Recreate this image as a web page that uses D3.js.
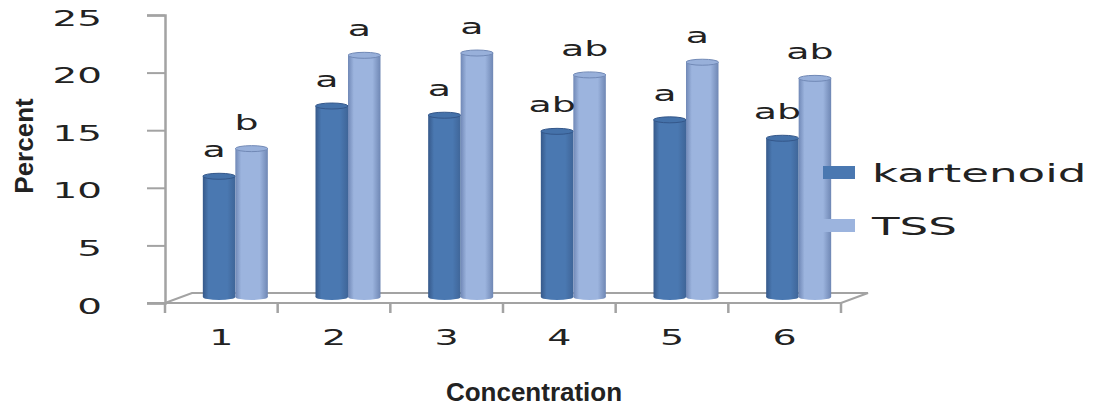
<!DOCTYPE html>
<html>
<head>
<meta charset="utf-8">
<script src="https://cdn.jsdelivr.net/npm/d3@7"></script>
<style>
  html, body { margin: 0; padding: 0; background: #fff; }
  svg { display: block; }
</style>
</head>
<body>
<svg id="chart" width="1095" height="406"></svg>
<script>
// ---- data ----
const categories = ["1", "2", "3", "4", "5", "6"];
const seriesNames = ["kartenoid", "TSS"];
const kartenoid = [11.0, 17.1, 16.3, 14.9, 15.9, 14.3];
const tss = [13.4, 21.5, 21.7, 19.8, 20.9, 19.5];
const kartenoidLetters = ["a", "a", "a", "ab", "a", "ab"];
const tssLetters = ["b", "a", "a", "ab", "a", "ab"];
const yTicks = [0, 5, 10, 15, 20, 25];

// ---- layout ----
const svg = d3.select("#chart");
const axisX0 = 165, axisX1 = 841;
const floorFront = 303, plotTop = 15;
const depthDx = 27, depthDy = -10;   // full floor depth
const barDx = 14, barDy = -3;        // bars sit mid depth
const stretch = 1.85;

const x = d3.scaleBand().domain(categories).range([axisX0, axisX1]).padding(0);
const y = d3.scaleLinear().domain([0, 25]).range([floorFront, plotTop]);
const inner = d3.scaleBand().domain(seriesNames).range([0, 65]).padding(0);
const groupOffset = (x.bandwidth() - 65) / 2;

const colors = {
  kartenoid: { left: "#36598a", mid: "#4a78b1", right: "#3f6598", top: "#4572aa", stroke: "#34578a" },
  TSS: { left: "#7088b6", mid: "#9cb4de", right: "#6f87b4", top: "#98b0da", stroke: "#7189b6" }
};

// gradients
const defs = svg.append("defs");
seriesNames.forEach(s => {
  const g = defs.append("linearGradient").attr("id", "grad-" + s)
    .attr("x1", "0%").attr("x2", "100%").attr("y1", "0%").attr("y2", "0%");
  g.append("stop").attr("offset", "0%").attr("stop-color", colors[s].left);
  g.append("stop").attr("offset", "18%").attr("stop-color", colors[s].mid);
  g.append("stop").attr("offset", "75%").attr("stop-color", colors[s].mid);
  g.append("stop").attr("offset", "100%").attr("stop-color", colors[s].right);
});

const gray = "#a3a3a3";

// floor (3D)
const floor = svg.append("g").attr("stroke", gray).attr("stroke-width", 2).attr("fill", "none");
floor.append("path").attr("d",
  `M${axisX0 - 18},${floorFront} L${axisX1},${floorFront} L${axisX1 + depthDx},${floorFront + depthDy}` +
  ` L${axisX0 + depthDx},${floorFront + depthDy} L${axisX0},${floorFront}`);

// y axis
const yAxis = svg.append("g").attr("transform", `translate(${axisX0},0)`)
  .call(d3.axisLeft(y).tickValues(yTicks).tickSize(18).tickPadding(0).tickFormat(d3.format("d")));
yAxis.select(".domain").attr("stroke", gray).attr("stroke-width", 2.5);
yAxis.selectAll(".tick line").attr("stroke", gray).attr("stroke-width", 2);
yAxis.selectAll(".tick text")
  .attr("x", 0).attr("dy", "10px")
  .attr("transform", `translate(-63,0) scale(1.9,1)`)
  .attr("text-anchor", "end")
  .attr("font-family", "DejaVu Sans").attr("font-size", 20.5).attr("fill", "#222");

// x axis ticks at band boundaries
const boundaries = categories.map(c => x(c)).concat([x(categories[categories.length - 1]) + x.bandwidth()]);
svg.append("g").selectAll("line").data(boundaries).join("line")
  .attr("x1", d => d).attr("x2", d => d)
  .attr("y1", floorFront).attr("y2", floorFront + 10)
  .attr("stroke", gray).attr("stroke-width", 2.5);

// x labels
const xAxis = svg.append("g").attr("transform", `translate(0,${floorFront})`)
  .call(d3.axisBottom(x).tickSize(0).tickPadding(0));
xAxis.select(".domain").remove();
xAxis.selectAll(".tick text")
  .attr("y", 0).attr("dy", "42px")
  .attr("transform", `scale(${stretch},1)`)
  .attr("font-family", "DejaVu Sans").attr("font-size", 20.5).attr("fill", "#222");

// bars (cylinders)
const data = [];
categories.forEach((c, i) => {
  data.push({ cat: c, series: "kartenoid", value: kartenoid[i], letter: kartenoidLetters[i] });
  data.push({ cat: c, series: "TSS", value: tss[i], letter: tssLetters[i] });
});
const yb = v => y(v) + barDy;
const bx = d => x(d.cat) + groupOffset + barDx + inner(d.series);
const bw = inner.bandwidth();
const ry = 3;

const bars = svg.append("g").selectAll("g.bar").data(data).join("g").attr("class", "bar");
bars.append("ellipse")
  .attr("cx", d => bx(d) + bw / 2).attr("cy", yb(0) - ry)
  .attr("rx", bw / 2).attr("ry", ry)
  .attr("fill", d => `url(#grad-${d.series})`);
bars.append("rect")
  .attr("x", d => bx(d)).attr("y", d => yb(d.value) + ry)
  .attr("width", bw).attr("height", d => yb(0) - yb(d.value) - 2 * ry)
  .attr("fill", d => `url(#grad-${d.series})`);
bars.append("ellipse")
  .attr("cx", d => bx(d) + bw / 2).attr("cy", d => yb(d.value) + ry)
  .attr("rx", bw / 2).attr("ry", ry)
  .attr("fill", d => colors[d.series].top)
  .attr("stroke", d => colors[d.series].stroke).attr("stroke-width", 1);

// significance letters
svg.append("g").selectAll("text").data(data).join("text")
  .attr("transform", d => `translate(${bx(d) + bw / 2 - 5},${yb(d.value) - 16}) scale(${stretch},1)`)
  .attr("text-anchor", "middle")
  .attr("font-family", "DejaVu Sans").attr("font-size", 20.5).attr("fill", "#222")
  .text(d => d.letter);

// axis titles
svg.append("text")
  .attr("transform", "translate(33,146) rotate(-90)")
  .attr("text-anchor", "middle")
  .attr("font-family", "Liberation Sans, Arial, sans-serif").attr("font-weight", "bold")
  .attr("font-size", 26).attr("fill", "#222")
  .text("Percent");
svg.append("text")
  .attr("x", 534).attr("y", 401)
  .attr("text-anchor", "middle")
  .attr("font-family", "Liberation Sans, Arial, sans-serif").attr("font-weight", "bold")
  .attr("font-size", 26).attr("fill", "#222")
  .text("Concentration");

// legend
const legend = svg.append("g").selectAll("g").data(seriesNames).join("g")
  .attr("transform", (d, i) => `translate(823,${166 + i * 53})`);
legend.append("rect").attr("width", 32).attr("height", 13)
  .attr("fill", d => colors[d].mid);
legend.append("text")
  .attr("transform", `translate(49,16) scale(1.88,1)`)
  .attr("font-family", "DejaVu Sans").attr("font-size", 24).attr("fill", "#222")
  .text(d => d);
</script>
</body>
</html>
